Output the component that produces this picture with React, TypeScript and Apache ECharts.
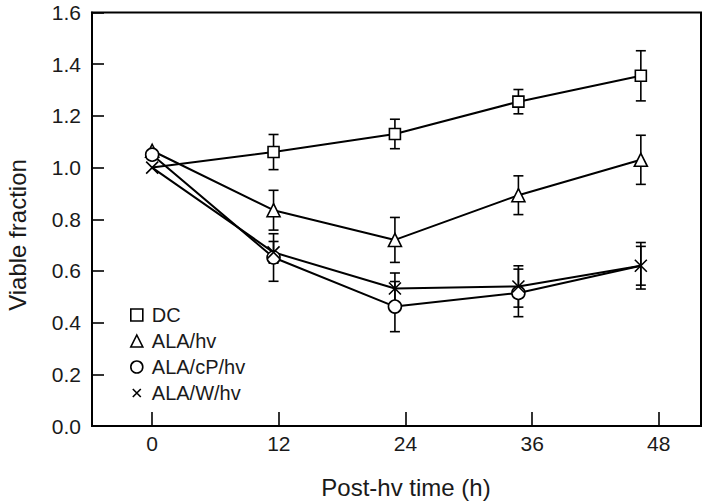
import React, { useEffect, useRef } from "react";
import * as echarts from "echarts";

const times = [0, 11.5, 23, 34.7, 46.3];
const xTicks = [0, 12, 24, 36, 48];
const seriesNames = ["DC", "ALA/hv", "ALA/cP/hv", "ALA/W/hv"];
const dcValues = [1.0, 1.06, 1.13, 1.255, 1.355];
const dcErrors = [0, 0.068, 0.057, 0.047, 0.097];
const alaValues = [1.065, 0.835, 0.72, 0.893, 1.03];
const alaErrors = [0, 0.077, 0.087, 0.075, 0.095];
const cpValues = [1.05, 0.652, 0.462, 0.515, 0.62];
const cpErrors = [0, 0.092, 0.097, 0.092, 0.09];
const wValues = [1.0, 0.672, 0.532, 0.54, 0.62];
const wErrors = [0, 0.042, 0.06, 0.08, 0.075];

const FONT = "Liberation Sans, Arial, sans-serif";
const TEXT = "#1a1a1a";
const CROSS = "path://M0,0L10,10M10,0L0,10";
const CROSS_SMALL = "path://M2,2L10,10M10,2L2,10M0,0M12,12";

export default function App() {
  const ref = useRef<HTMLDivElement>(null);
  useEffect(() => {
    if (!ref.current) return;
    const chart = echarts.init(ref.current, undefined, { renderer: "svg" });
    const allValues = [dcValues, alaValues, cpValues, wValues];
    const allErrors = [dcErrors, alaErrors, cpErrors, wErrors];
    const symbols = ["rect", "triangle", "circle", CROSS];
    const sizes = [11, 13, 13, 12];
    // markers hidden under other markers in the reference
    const hidden: Record<string, boolean> = { "0-0": true, "2-4": true };
    const lineSeries = seriesNames.map((name, si) => ({
      name,
      type: "line",
      z: 3,
      symbol: symbols[si],
      symbolSize: sizes[si],
      data: times.map((t, i) => {
        const item: any = { value: [t, allValues[si][i]] };
        if (hidden[`${si}-${i}`]) item.symbol = "none";
        return item;
      }),
      lineStyle: { color: "#000", width: 2 },
      itemStyle: { color: "#fff", borderColor: "#000", borderWidth: 1.6 },
      emphasis: { disabled: true },
    }));
    const errData: number[][] = [];
    allValues.forEach((vals, si) => {
      vals.forEach((v, i) => {
        if (allErrors[si][i] > 0) errData.push([times[i], v, allErrors[si][i]]);
      });
    });
    const errSeries = {
      name: "errors",
      type: "custom",
      z: 2,
      dimensions: ["x", "y", "e"],
      encode: { x: 0, y: 1 },
      data: errData,
      renderItem: (params: any, api: any) => {
        const x = api.value(0);
        const y = api.value(1);
        const e = api.value(2);
        const top = api.coord([x, y + e]);
        const bot = api.coord([x, y - e]);
        const hw = 5;
        const st = { stroke: "#000", lineWidth: 1.6 };
        return {
          type: "group",
          children: [
            { type: "line", shape: { x1: top[0], y1: top[1], x2: bot[0], y2: bot[1] }, style: st },
            { type: "line", shape: { x1: top[0] - hw, y1: top[1], x2: top[0] + hw, y2: top[1] }, style: st },
            { type: "line", shape: { x1: bot[0] - hw, y1: bot[1], x2: bot[0] + hw, y2: bot[1] }, style: st },
          ],
        };
      },
    };
    const legendIcons = ["rect", "triangle", "circle", CROSS_SMALL];
    chart.setOption({
      animation: false,
      backgroundColor: "#fff",
      grid: {
        left: 92,
        right: 6,
        top: 12.5,
        bottom: 77,
        show: true,
        borderColor: "#000",
        borderWidth: 2,
        backgroundColor: "transparent",
      },
      xAxis: {
        type: "value",
        min: -5.7,
        max: 52,
        splitLine: { show: false },
        axisLine: { onZero: false, lineStyle: { color: "#000", width: 2 } },
        axisTick: {
          show: true,
          inside: true,
          length: 14,
          lineStyle: { color: "#000", width: 1.6 },
          customValues: xTicks,
        },
        axisLabel: {
          customValues: xTicks,
          fontSize: 21,
          fontFamily: FONT,
          color: TEXT,
          margin: 7,
        },
      },
      yAxis: {
        type: "value",
        min: 0,
        max: 1.6,
        interval: 0.2,
        splitLine: { show: false },
        axisLine: { onZero: false, lineStyle: { color: "#000", width: 2 } },
        axisTick: { show: true, inside: true, length: 12, lineStyle: { color: "#000", width: 1.6 } },
        axisLabel: {
          fontSize: 21,
          fontFamily: FONT,
          color: TEXT,
          margin: 11,
          formatter: (v: number) => v.toFixed(1),
        },
      },
      legend: {
        orient: "vertical",
        left: 125,
        top: 300,
        itemWidth: 12,
        itemHeight: 12,
        itemGap: 6,
        selectedMode: false,
        data: seriesNames.map((n, i) => ({ name: n, icon: legendIcons[i] })),
        itemStyle: { color: "#fff", borderColor: "#000", borderWidth: 1.6 },
        textStyle: {
          fontSize: 20,
          lineHeight: 20,
          fontFamily: FONT,
          color: TEXT,
          padding: [0, 0, 0, 4],
        },
      },
      graphic: [
        {
          type: "text",
          x: 406,
          y: 487,
          style: {
            text: "Post-hv time (h)",
            font: `24px ${FONT}`,
            fill: TEXT,
            textAlign: "center",
            textVerticalAlign: "middle",
          },
        },
        {
          type: "text",
          x: 17,
          y: 235,
          rotation: Math.PI / 2,
          style: {
            text: "Viable fraction",
            font: `24px ${FONT}`,
            fill: TEXT,
            textAlign: "center",
            textVerticalAlign: "middle",
          },
        },
      ],
      series: [errSeries, ...lineSeries],
    });
    return () => chart.dispose();
  }, []);
  return (
    <div
      ref={ref}
      style={{ position: "fixed", left: 0, top: 0, width: 707, height: 503, background: "#fff" }}
    />
  );
}
